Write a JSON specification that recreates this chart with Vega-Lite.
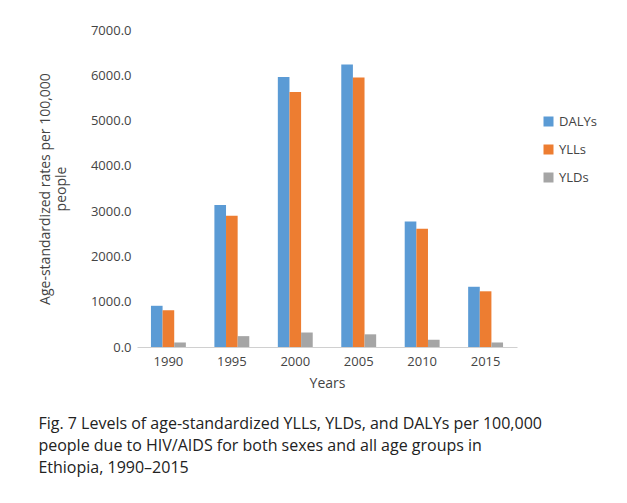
{
"$schema":"https://vega.github.io/schema/vega-lite/v6.json",
"width":380,"height":317,
"padding":{"left":38,"top":24,"right":10,"bottom":5},
"background":"white",
"config":{"font":"Open Sans","view":{"stroke":null}},
"title":{"text":["Fig. 7 Levels of age-standardized YLLs, YLDs, and DALYs per 100,000","people due to HIV/AIDS for both sexes and all age groups in","Ethiopia, 1990–2015"],"orient":"bottom","anchor":"start","frame":"bounds","fontSize":16,"fontWeight":"normal","color":"#222","offset":26,"lineHeight":22},
"data":{"values":[
{"y":"1990","m":"DALYs","v":910},{"y":"1990","m":"YLLs","v":810},{"y":"1990","m":"YLDs","v":100},
{"y":"1995","m":"DALYs","v":3135},{"y":"1995","m":"YLLs","v":2900},{"y":"1995","m":"YLDs","v":240},
{"y":"2000","m":"DALYs","v":5960},{"y":"2000","m":"YLLs","v":5630},{"y":"2000","m":"YLDs","v":320},
{"y":"2005","m":"DALYs","v":6240},{"y":"2005","m":"YLLs","v":5950},{"y":"2005","m":"YLDs","v":280},
{"y":"2010","m":"DALYs","v":2770},{"y":"2010","m":"YLLs","v":2610},{"y":"2010","m":"YLDs","v":160},
{"y":"2015","m":"DALYs","v":1330},{"y":"2015","m":"YLLs","v":1230},{"y":"2015","m":"YLDs","v":100}
]},
"mark":{"type":"bar"},
"encoding":{
"x":{"field":"y","type":"nominal","title":"Years","scale":{"paddingInner":0.45,"paddingOuter":0.22},"axis":{"labelAngle":0,"labelFontSize":13,"titleFontSize":14,"titleFontWeight":"normal","ticks":false,"domainColor":"#d0d0d0","labelColor":"#444","titleColor":"#444","labelPadding":8,"titlePadding":8}},
"xOffset":{"field":"m","sort":["DALYs","YLLs","YLDs"]},
"y":{"field":"v","type":"quantitative","title":["Age-standardized rates per 100,000","people"],"scale":{"domain":[0,7000]},"axis":{"values":[0,1000,2000,3000,4000,5000,6000,7000],"format":".1f","grid":false,"domain":false,"ticks":false,"labelFontSize":13,"titleFontSize":14,"titleFontWeight":"normal","labelColor":"#444","titleColor":"#444","labelPadding":6,"titlePadding":22}},
"color":{"field":"m","sort":["DALYs","YLLs","YLDs"],"scale":{"range":["#5b9bd5","#ed7d31","#a5a5a5"]},"legend":{"title":null,"labelFontSize":13,"symbolType":"square","rowPadding":14,"labelColor":"#444","orient":"none","legendX":405,"legendY":85,"padding":0}}
}
}
